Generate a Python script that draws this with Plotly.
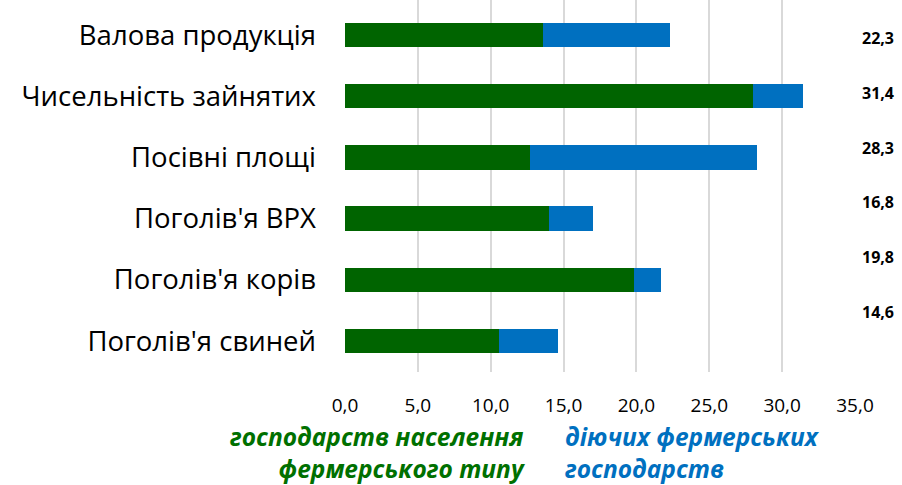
import plotly.graph_objects as go

categories = ["Валова продукція", "Чисельність зайнятих", "Посівні площі",
              "Поголів'я ВРХ", "Поголів'я корів", "Поголів'я свиней"]
households = [13.6, 28.0, 12.7, 14.0, 19.8, 10.6]
farms = [8.7, 3.4, 15.6, 3.0, 1.9, 4.0]
total_labels = ["22,3", "31,4", "28,3", "16,8", "19,8", "14,6"]
x_ticks = [0, 5, 10, 15, 20, 25, 30, 35]
series_names = ["господарств населення<br>фермерського типу", "діючих фермерських<br>господарств"]

GREEN = "#006400"
BLUE = "#0070C0"
FONT = "Open Sans"

fig = go.Figure()
fig.add_trace(go.Bar(y=categories, x=households, orientation="h", marker_color=GREEN,
                     marker_line_width=0, width=0.4, name="households"))
fig.add_trace(go.Bar(y=categories, x=farms, orientation="h", marker_color=BLUE,
                     marker_line_width=0, width=0.4, name="farms"))

W, H = 902, 485
top, bottom_px = 0, 372
left, right_px = 345, 855

annotations = []
for i, lab in enumerate(total_labels):
    ypx = 38 + 54.8 * i
    annotations.append(dict(text="<b>" + lab + "</b>", xref="paper", yref="paper",
                            x=(878 - left) / (right_px - left),
                            y=1 - (ypx - top) / (bottom_px - top),
                            showarrow=False, xanchor="center", yanchor="middle",
                            font=dict(family=FONT, size=16, color="#000000")))

legend_y = -(452 - bottom_px) / (bottom_px - top)
annotations.append(dict(text="<b><i>" + series_names[0] + "</i></b>", xref="paper", yref="paper",
                        x=(527 - left) / (right_px - left), y=legend_y,
                        showarrow=False, xanchor="right", yanchor="middle", align="right",
                        font=dict(family=FONT, size=24.5, color="#007000")))
annotations.append(dict(text="<b><i>" + series_names[1] + "</i></b>", xref="paper", yref="paper",
                        x=(563 - left) / (right_px - left), y=legend_y,
                        showarrow=False, xanchor="left", yanchor="middle", align="left",
                        font=dict(family=FONT, size=24.5, color=BLUE)))

fig.update_layout(
    width=W, height=H,
    barmode="stack",
    bargap=0.6,
    showlegend=False,
    separators=", ",
    plot_bgcolor="white", paper_bgcolor="white",
    margin=dict(l=left, r=W - right_px, t=top, b=H - bottom_px, pad=0, autoexpand=False),
    font=dict(family=FONT, color="#000000"),
    annotations=annotations,
    xaxis=dict(range=[0, 35], tickvals=x_ticks, tickformat=".1f",
               showgrid=True, gridcolor="#d9d9d9", gridwidth=1.5,
               zeroline=False, showline=False, automargin=False,
               tickfont=dict(family=FONT, size=19, color="#000000"),
               ticklabelstandoff=20),
    yaxis=dict(categoryorder="array", categoryarray=categories,
               range=[5.507, -0.572], showgrid=False, zeroline=False, showline=False,
               automargin=False,
               tickfont=dict(family=FONT, size=27.5, color="#000000"),
               ticklabelstandoff=28),
)

fig.write_html("out.html", config={"displayModeBar": False},
               post_script="document.body.style.margin='0px';document.body.style.overflow='hidden';")
